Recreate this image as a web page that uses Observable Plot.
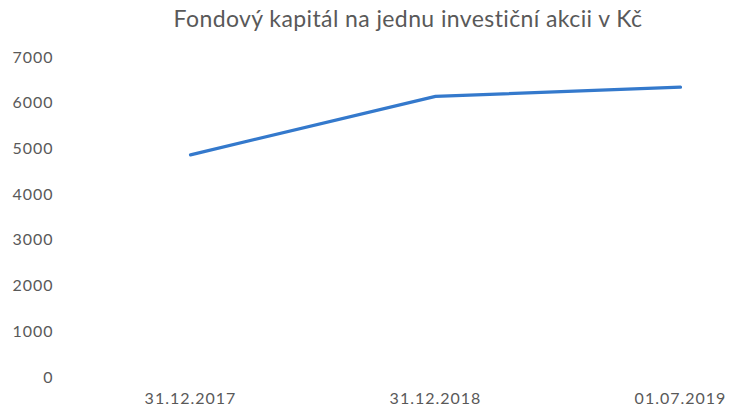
<!DOCTYPE html>
<html>
<head>
<meta charset="utf-8">
<script src="https://cdn.jsdelivr.net/npm/d3@7"></script>
<script src="https://cdn.jsdelivr.net/npm/@observablehq/plot@0.6"></script>
<style>
  html, body { margin: 0; padding: 0; background: #fff; }
  #title { width: 730px; height: 40px; box-sizing: border-box; padding-left: 86px; text-align: center; font-family: Lato, sans-serif; font-size: 23px; color: #595959; line-height: 36px; letter-spacing: 0.4px; }
  #chart svg { display: block; }
  #chart svg text { letter-spacing: 1px; }
</style>
</head>
<body>
<div id="title">Fondový kapitál na jednu investiční akcii v Kč</div>
<div id="chart"></div>
<script>
const dates = ["31.12.2017", "31.12.2018", "01.07.2019"];
const values = [4870, 6150, 6350];
const yTicks = [0, 1000, 2000, 3000, 4000, 5000, 6000, 7000];

const data = dates.map((d, i) => ({date: d, value: values[i]}));

const plot = Plot.plot({
  width: 730,
  height: 373,
  marginTop: 17,
  marginBottom: 36,
  marginLeft: 59,
  marginRight: 50,
  style: {fontFamily: "Lato, sans-serif", fontSize: "16px", color: "#595959", background: "#fff"},
  x: {type: "point", domain: dates, padding: 0, insetLeft: 131},
  y: {domain: [0, 7000]},
  marks: [
    Plot.axisX({ticks: dates, tickSize: 0, tickPadding: 15, label: null, fontSize: 16}),
    Plot.axisY({ticks: yTicks, tickSize: 0, tickPadding: 6, label: null, fontSize: 16, tickFormat: d => String(d)}),
    Plot.line(data, {x: "date", y: "value", stroke: "#3479cc", strokeWidth: 3.2, strokeLinecap: "round", strokeLinejoin: "round"})
  ]
});
document.getElementById("chart").appendChild(plot);
</script>
</body>
</html>
